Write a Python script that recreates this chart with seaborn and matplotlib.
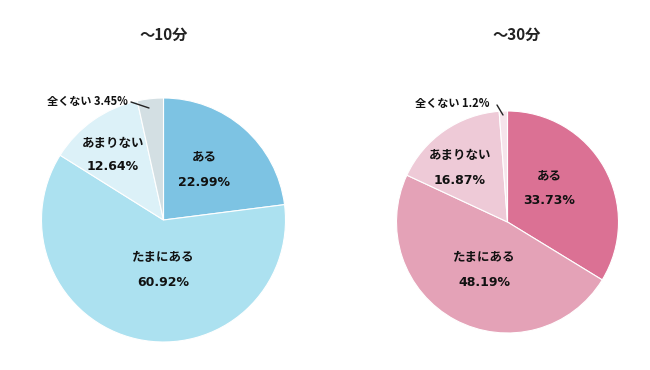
import matplotlib
matplotlib.use("Agg")
import matplotlib.pyplot as plt
import seaborn as sns

sns.set_theme(style="white")
plt.rcParams["font.family"] = ["Noto Sans CJK JP", "DejaVu Sans"]

# ── data ──────────────────────────────────────────────────────────────────────
categories = ["ある", "たまにある", "あまりない", "全くない"]
values_10 = [22.99, 60.92, 12.64, 3.45]
values_30 = [33.73, 48.19, 16.87, 1.2]
titles = ["～10分", "～30分"]

colors_10 = ["#7dc3e3", "#ace1f0", "#dcf1f8", "#d3dfe3"]
colors_30 = ["#db7194", "#e4a2b7", "#eecad7", "#f6e4eb"]

W, H = 650, 370


def py(y):
    # pixel-from-top → data y
    return H - y


fig = plt.figure(figsize=(6.5, 3.7), dpi=100)
ax = fig.add_axes([0, 0, 1, 1])

panels = [
    dict(vals=values_10, cols=colors_10, center=(163.5, 220), r=122, title=titles[0], tpos=(164, 35),
         labels=[(204, 157, 182), (163, 258, 283), (113, 144, 167)],
         small=(87, 102), line=((131, 102), (149, 108))),
    dict(vals=values_30, cols=colors_30, center=(507.5, 222), r=111, title=titles[1], tpos=(517, 35),
         labels=[(549, 176, 201), (484, 257, 283), (460, 156, 180)],
         small=(452, 103), line=((497, 105), (503, 115))),
]

for p in panels:
    cx, cy = p["center"]
    ax.pie(p["vals"], colors=p["cols"], startangle=90, counterclock=False,
           center=(cx, py(cy)), radius=p["r"],
           wedgeprops=dict(edgecolor="white", linewidth=0.8))
    ax.text(p["tpos"][0], py(p["tpos"][1]), p["title"], ha="center", va="center",
            fontsize=11, fontweight="bold", color="#222222")
    for (x, y1, y2), name, v in zip(p["labels"], categories[:3], p["vals"][:3]):
        ax.text(x, py(y1), name, ha="center", va="center", fontsize=9,
                fontweight="bold", color="#111111")
        ax.text(x, py(y2), f"{v:g}%", ha="center", va="center", fontsize=9,
                fontweight="bold", color="#111111", family="DejaVu Sans")
    (x0, y0), (x1, y1) = p["line"]
    ax.plot([x0, x1], [py(y0), py(y1)], color="#222222", lw=1)
    ax.text(p["small"][0], py(p["small"][1]), f"{categories[3]} {p['vals'][3]:g}%",
            ha="center", va="center", fontsize=8, fontweight="bold", color="#111111")

ax.set_xlim(0, W)
ax.set_ylim(0, H)
ax.set_aspect("equal")
ax.axis("off")

fig.savefig("out.png", dpi=100, facecolor="white")
